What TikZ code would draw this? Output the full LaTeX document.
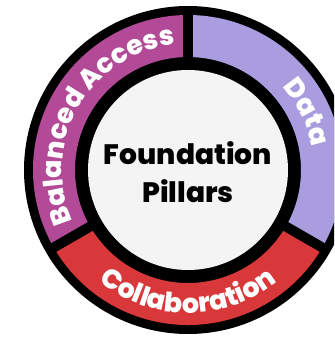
\documentclass[tikz,border=0pt]{standalone}
\usepackage{fontspec}
\setmainfont{Poppins}[BoldFont={* ExtraBold}]
\usetikzlibrary{decorations.text}

\definecolor{accesscol}{HTML}{B24A97}
\definecolor{datacol}{HTML}{A99DE0}
\definecolor{collabcol}{HTML}{D9383A}
\definecolor{hubcol}{HTML}{F4F4F4}

\tikzset{
  bandtext/.style={decorate, decoration={text along path, text align=center,
    text={|\fontsize{23}{26}\selectfont\bfseries\color{white}|#1}}},
}

\begin{document}
\begin{tikzpicture}[x=0.03cm, y=0.03cm]
        \clip (-188,-169) rectangle (146,170);
        \fill[black] (0,0) circle (164);
        % the three pillar bands
        \foreach \a/\b/\c in {90/210/accesscol, 210/330/collabcol, -30/90/datacol}
            \fill[\c] (\a:155) arc[start angle=\a, end angle=\b, radius=155]
                -- (\b:113) arc[start angle=\b, end angle=\a, radius=113] -- cycle;
        \foreach \a in {90,210,330}
            \draw[line width=0.3cm] (\a:105) -- (\a:160);
        \fill[hubcol] (0,0) circle (100);
        \node[align=center, font=\bfseries\fontsize{24}{32.4}\selectfont] (pillars) at (0,-2) {Foundation\\Pillars};
        % labels along the bands
        \path[bandtext=Balanced Access] (210:126) arc[start angle=210, end angle=90, radius=126];
        \path[bandtext=Data] (86:126) arc[start angle=86, end angle=-34, radius=126];
        \path[bandtext=Collaboration] (208:143) arc[start angle=208, end angle=332, radius=143];
\end{tikzpicture}
\end{document}
